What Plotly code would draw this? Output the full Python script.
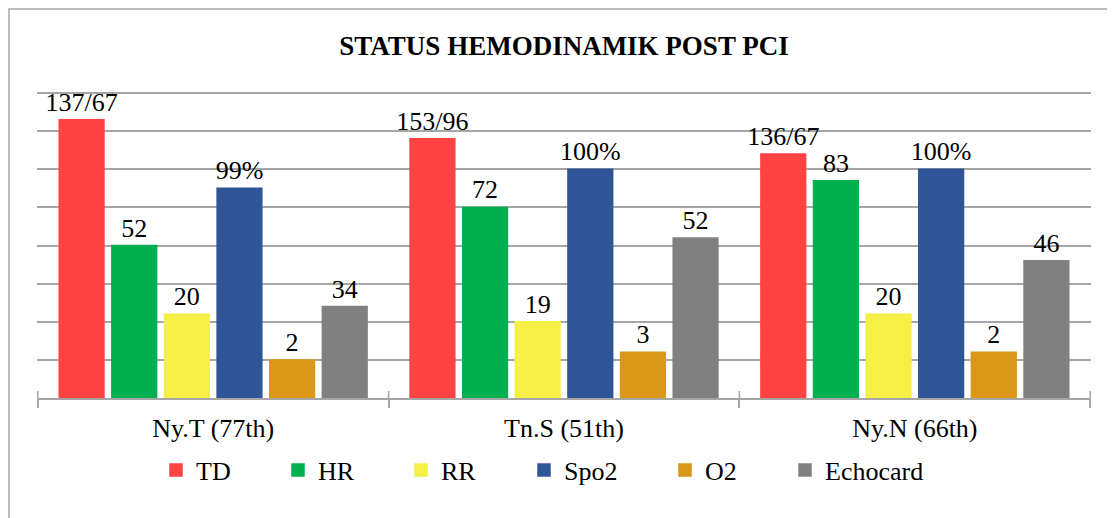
import plotly.graph_objects as go

categories = ["Ny.T (77th)", "Tn.S (51th)", "Ny.N (66th)"]
series_names = ["TD", "HR", "RR", "Spo2", "O2", "Echocard"]

# bar heights as drawn (in gridline units)
td_values = [7.3, 6.8, 6.4]
hr_values = [4.0, 5.0, 5.7]
rr_values = [2.2, 2.0, 2.2]
spo2_values = [5.5, 6.0, 6.0]
o2_values = [1.0, 1.2, 1.2]
echo_values = [2.4, 4.2, 3.6]

# labels shown above bars
td_labels = ["137/67", "153/96", "136/67"]
hr_labels = ["52", "72", "83"]
rr_labels = ["20", "19", "20"]
spo2_labels = ["99%", "100%", "100%"]
o2_labels = ["2", "3", "2"]
echo_labels = ["34", "52", "46"]

colors = ["#FF4242", "#00B050", "#F5EF46", "#2F5597", "#DA9718", "#808080"]

values = [td_values, hr_values, rr_values, spo2_values, o2_values, echo_values]
labels = [td_labels, hr_labels, rr_labels, spo2_labels, o2_labels, echo_labels]

FONT = "Liberation Serif"
AXIS_GRAY = "#A6A6A6"
# the page body adds an 8px offset, so the figure is sized to fit the window
OFF = 8
FIG_W, FIG_H = 1115 - OFF, 518 - OFF
GRID_TOP_PX = 93          # screen y of the top gridline (value 8)
EXTRA_TOP = 3             # plot area extends a little above it
PLOT_L, PLOT_R, PLOT_T, PLOT_B = 37 - OFF, 1091 - OFF, GRID_TOP_PX - EXTRA_TOP - OFF, 398 - OFF
PW, PH = PLOT_R - PLOT_L, PLOT_B - PLOT_T
Y_TOP = 8
Y_RANGE_MAX = Y_TOP * PH / (PH - EXTRA_TOP)

# legend text start positions (screen px) for each entry
legend_text_px = [195, 317, 440, 563, 704, 824]

fig = go.Figure()
legend_ids = []
for i, (name, vals, labs, col) in enumerate(zip(series_names, values, labels, colors)):
    lid = "legend" if i == 0 else f"legend{i + 1}"
    legend_ids.append(lid)
    fig.add_trace(go.Bar(
        name=name, x=categories, y=vals, text=labs,
        textposition="outside", cliponaxis=False, constraintext="none",
        textfont=dict(family=FONT, size=26, color="#000000"),
        marker=dict(color=col, line=dict(color=col, width=1.5)),
        hoverinfo="skip", legend=lid,
    ))

layout_legends = {}
for lid, tx in zip(legend_ids, legend_text_px):
    layout_legends[lid] = dict(
        orientation="h", x=(tx - 39 - OFF - PLOT_L) / PW, xanchor="left",
        y=-(470 - OFF - PLOT_B) / PH, yanchor="middle",
        font=dict(family=FONT, size=26, color="#000000"),
        bgcolor="rgba(0,0,0,0)", borderwidth=0,
    )

fig.update_layout(
    template="none",
    width=FIG_W, height=FIG_H,
    margin=dict(l=PLOT_L, r=FIG_W - PLOT_R, t=PLOT_T, b=FIG_H - PLOT_B, autoexpand=False),
    paper_bgcolor="white", plot_bgcolor="white",
    barmode="group", bargap=0.1, bargroupgap=0.15,
    font=dict(family=FONT, size=26, color="#000000"),
    title=dict(text="<b>STATUS HEMODINAMIK POST PCI</b>",
               font=dict(family=FONT, size=27, color="#000000"),
               x=0.5, xref="paper", xanchor="center",
               y=1 - 38 / FIG_H, yref="container", yanchor="middle"),
    showlegend=True,
    **layout_legends,
)

fig.update_xaxes(
    type="category", showline=True, linecolor=AXIS_GRAY, linewidth=1.5,
    ticks="outside", tickson="boundaries", ticklen=8, tickcolor=AXIS_GRAY, tickwidth=1.5,
    tickfont=dict(family=FONT, size=26, color="#000000"), ticklabelstandoff=6,
    showgrid=False, zeroline=False, automargin=False,
)
fig.update_yaxes(
    range=[0, Y_RANGE_MAX], dtick=1, showgrid=True, gridcolor=AXIS_GRAY, gridwidth=1.5,
    showticklabels=False, zeroline=False, showline=False, ticks="", automargin=False,
)

# upper halves of the crossing category-boundary ticks
for b in range(len(categories) + 1):
    fig.add_shape(type="line", xref="x", yref="y", ysizemode="pixel", yanchor=0,
                  x0=b - 0.5, x1=b - 0.5, y0=0, y1=7,
                  line=dict(color=AXIS_GRAY, width=1.5))

# outer chart border (top and left visible)
fig.add_shape(type="rect", xref="paper", yref="paper",
              x0=(1 - PLOT_L) / PW, x1=1.2, y0=-0.6, y1=(PLOT_B - 1) / PH,
              line=dict(color=AXIS_GRAY, width=1.5), fillcolor="rgba(0,0,0,0)",
              layer="below")

fig.write_html("out.html")
